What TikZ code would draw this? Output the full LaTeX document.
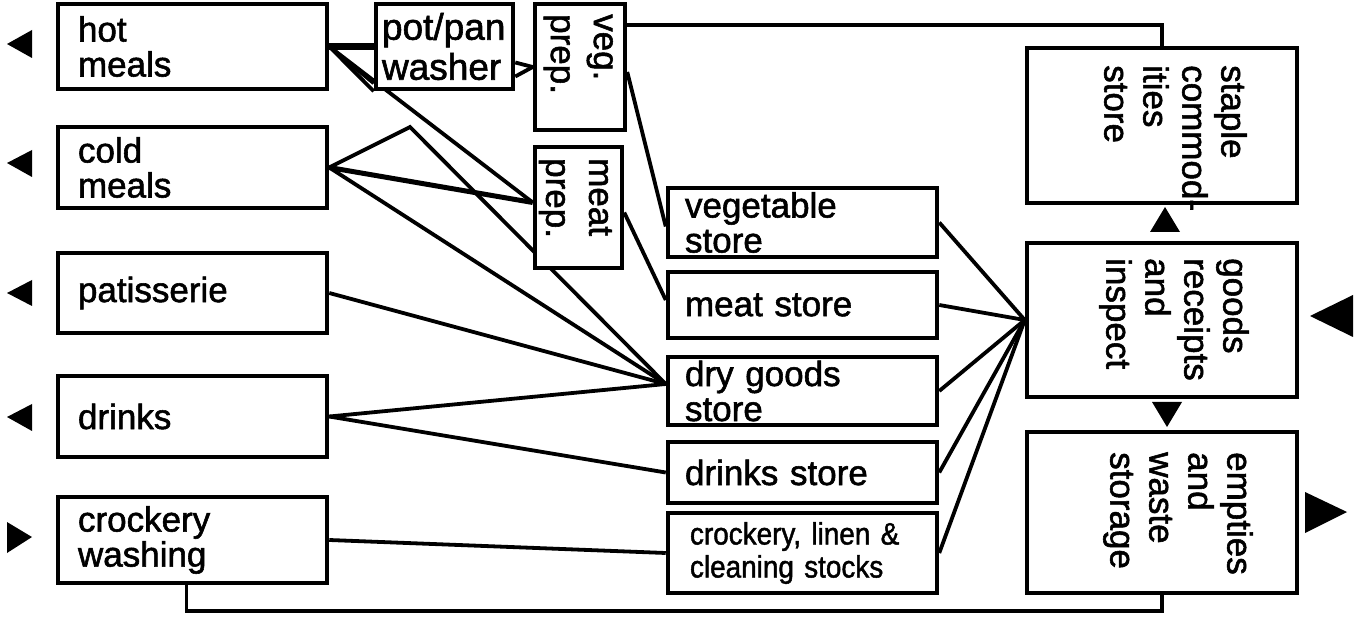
\documentclass[tikz,border=0pt]{standalone}
\usepackage{fontspec}
\setmainfont{Liberation Sans}[FakeBold=1.6]
\newfontfamily\narrowfont{Liberation Sans}[FakeStretch=0.9,FakeBold=1.4]
\usetikzlibrary{backgrounds}
\begin{document}
\begin{tikzpicture}[x=1pt,y=-1pt,
  box/.style={draw, line width=4.5pt, fill=white, rectangle, inner ysep=0pt},
  lbox/.style={box, text width=229pt, inner xsep=20pt, align=left, font=\fontsize{35}{35}\selectfont},
  sbox/.style={box, text width=235pt, inner xsep=17pt, align=left, font=\fontsize{35}{35}\selectfont},
  ebox/.style={box, inner sep=0pt},
  rtxt/.style={rotate=-90, anchor=north west, inner sep=0pt, align=left, font=\fontsize{35}{39}\selectfont},
  conn/.style={line width=3.8pt},
  tri/.style={fill=black}
]
\useasboundingbox (0,0) rectangle (1361,620);

% left column
\node[lbox, minimum height=85pt] (hot) at (192.5,46.5) {hot\\meals};
\node[lbox, minimum height=81pt] (cold) at (192.5,167.5) {cold\\meals};
\node[lbox, minimum height=80pt] (pat) at (192.5,293) {patisserie};
\node[lbox, minimum height=81pt] (drk) at (192.5,416.5) {drinks};
\node[lbox, minimum height=86pt] (cw) at (192.5,540) {crockery\\washing};

% preparation
\node[box, text width=125pt, inner xsep=6pt, align=left, minimum height=85pt,
      font=\fontsize{37}{40}\selectfont] (pp) at (444.5,46.5) {pot/pan\\washer};
\node[ebox, minimum width=90pt, minimum height=126pt] (vp) at (580,67) {};
\node[ebox, minimum width=87pt, minimum height=121pt] (mp) at (578.5,207.5) {};
\node[rtxt, font=\fontsize{35}{43}\selectfont] (vpt) at (613,14) {veg.\\prep.};
\node[rtxt, font=\fontsize{35}{43}\selectfont] (mpt) at (612,158) {meat\\prep.};

% stores
\node[sbox, minimum height=69pt] (vs) at (802.5,222.5) {vegetable\\store};
\node[sbox, minimum height=66pt] (ms) at (802.5,305) {meat store};
\node[sbox, minimum height=68pt] (ds) at (802.5,391) {dry goods\\store};
\node[sbox, minimum height=61pt] (dks) at (802.5,472.5) {drinks store};
\node[box, text width=225pt, inner xsep=22pt, align=left, minimum height=80pt,
      font=\narrowfont\fontsize{31}{33}\selectfont] (cl) at (802.5,553) {crockery, linen \&\\cleaning stocks};

% right column
\node[ebox, minimum width=270pt, minimum height=155pt] (st) at (1162,125.5) {};
\node[ebox, minimum width=270pt, minimum height=154pt] (gr) at (1162,320) {};
\node[ebox, minimum width=270pt, minimum height=161pt] (ew) at (1162,512.5) {};
\node[rtxt] (stt) at (1247,65) {staple\\commod-\\ities\\store};
\node[rtxt] (grt) at (1249,258) {goods\\receipts\\and\\inspect};
\node[rtxt] (ewt) at (1253,452) {empties\\and\\waste\\storage};

\coordinate (apex) at (410,127);
\coordinate (dryin) at ([yshift=7pt]ds.west);
\coordinate (topy) at (0,25);
\coordinate (boty) at (0,611);

\begin{scope}[on background layer]
  \draw[conn, line width=7pt] (hot.east) -- (pp.west);
  \draw[conn] (hot.east) -- (pp.south west);
  \draw[conn] (hot.east) -- ([yshift=8pt]pp.south west);
  \draw[conn] (hot.east) -- ([yshift=5pt]mp.west);
  \draw[conn] ([yshift=-16pt]pp.east) -- (vp.west);
  \draw[conn] ([yshift=-30pt]pp.east) -- (vp.west);
  \draw[conn] (cold.east) -- (apex) -- (dryin);
  \draw[conn, line width=5pt] (cold.east) -- ([yshift=5pt]mp.west);
  \draw[conn] (cold.east) -- (dryin);
  \draw[conn] (pat.east) -- (dryin);
  \draw[conn] (drk.east) -- (dryin);
  \draw[conn] (drk.east) -- (dks.west);
  \draw[conn] (cw.east) -- (cl.west);
  \draw[conn] ([yshift=-5pt]vp.east) -- ([yshift=-4pt]vs.west);
  \draw[conn] ([yshift=-5pt]mp.east) -- ([yshift=5pt]ms.west);
  \foreach \s in {vs,ms,ds,dks,cl} \draw[conn] (\s.east) -- (gr.west);
  \draw[conn] (vp.east |- topy) -| (st.north);
  \draw[conn] ([xshift=-6pt]cw.south) |- (ew.south |- boty) -- (ew.south);
\end{scope}

% flow markers
\fill[tri] (7,44) -- (32,30) -- (32,58) -- cycle;
\fill[tri] (7,163) -- (32,150) -- (32,177) -- cycle;
\fill[tri] (7,293) -- (32,280) -- (32,306) -- cycle;
\fill[tri] (7,417) -- (32,404) -- (32,431) -- cycle;
\fill[tri] (32,537) -- (7,522) -- (7,553) -- cycle;
\fill[tri] (1165,207) -- (1150,232) -- (1180,232) -- cycle;
\fill[tri] (1167,427) -- (1152,402) -- (1182,402) -- cycle;
\fill[tri] (1310,316) -- (1353,295) -- (1353,337) -- cycle;
\fill[tri] (1347,512) -- (1305,492) -- (1305,533) -- cycle;
\end{tikzpicture}
\end{document}
